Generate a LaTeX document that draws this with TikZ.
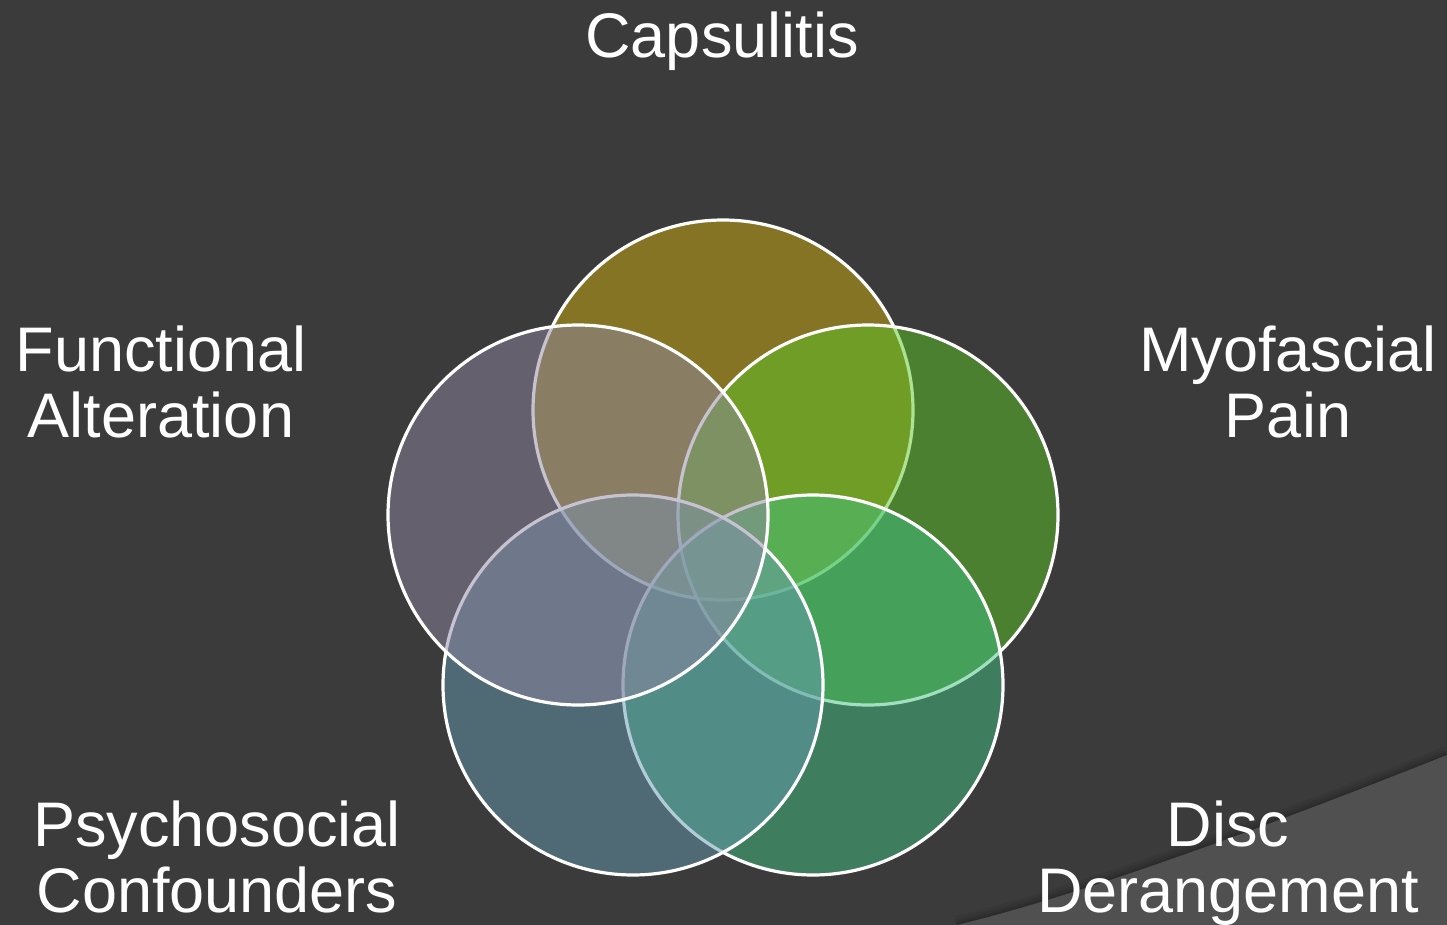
\documentclass[tikz,border=0pt]{standalone}
\usepackage{fontspec}
\setmainfont{Liberation Sans}
\begin{document}
\begin{tikzpicture}[x=1pt,y=-1pt,
  venn/.style={circle, draw=white, line width=3.2pt, minimum size=380pt,
               inner sep=0pt, fill opacity=0.5},
  lbl/.style={text=white, font=\fontsize{63}{66}\selectfont, align=center,
              inner sep=0pt, outer sep=0pt}]
\definecolor{bg}{RGB}{59,59,59}
\definecolor{wedge}{RGB}{80,80,80}
\definecolor{capcol}{RGB}{208,174,14}
\definecolor{myocol}{RGB}{90,198,38}
\definecolor{disccol}{RGB}{66,194,130}
\definecolor{psycol}{RGB}{102,154,176}
\definecolor{funcol}{RGB}{142,134,162}

% canvas
\fill[bg] (0,0) rectangle (1447,925);
\useasboundingbox (0,0) rectangle (1447,925);
\clip (0,0) rectangle (1447,925);

% lighter wedge in the lower right corner, with a soft shadow along its edge
\foreach \w/\o in {18/0.05,12/0.06,7/0.07,3/0.08}
  \draw[black, opacity=\o, line width=\w pt]
    (957,925) .. controls (1065,899) and (1228,842) .. (1447,755);
\fill[wedge] (957,925) .. controls (1065,899) and (1228,842) .. (1447,755)
  -- (1447,925) -- cycle;

% five overlapping sets, drawn clockwise from the top
\node[venn, fill=capcol]  (cap)  at (723,410) {};
\node[venn, fill=myocol]  (myo)  at (868,515) {};
\node[venn, fill=disccol] (disc) at (813,685) {};
\node[venn, fill=psycol]  (psy)  at (633,685) {};
\node[venn, fill=funcol]  (func) at (578,515) {};

% set labels
\node[lbl, anchor=base]  (capsulitis)   at (722,58)   {Capsulitis};
\node[lbl, anchor=north] (myofascial)   at (1288,326) {Myofascial\\Pain};
\node[lbl, anchor=north] (derangement)  at (1228,801) {Disc\\Derangement};
\node[lbl, anchor=north] (psychosocial) at (217,801)  {Psychosocial\\Confounders};
\node[lbl, anchor=north] (functional)   at (161,326)  {Functional\\Alteration};
\end{tikzpicture}
\end{document}
